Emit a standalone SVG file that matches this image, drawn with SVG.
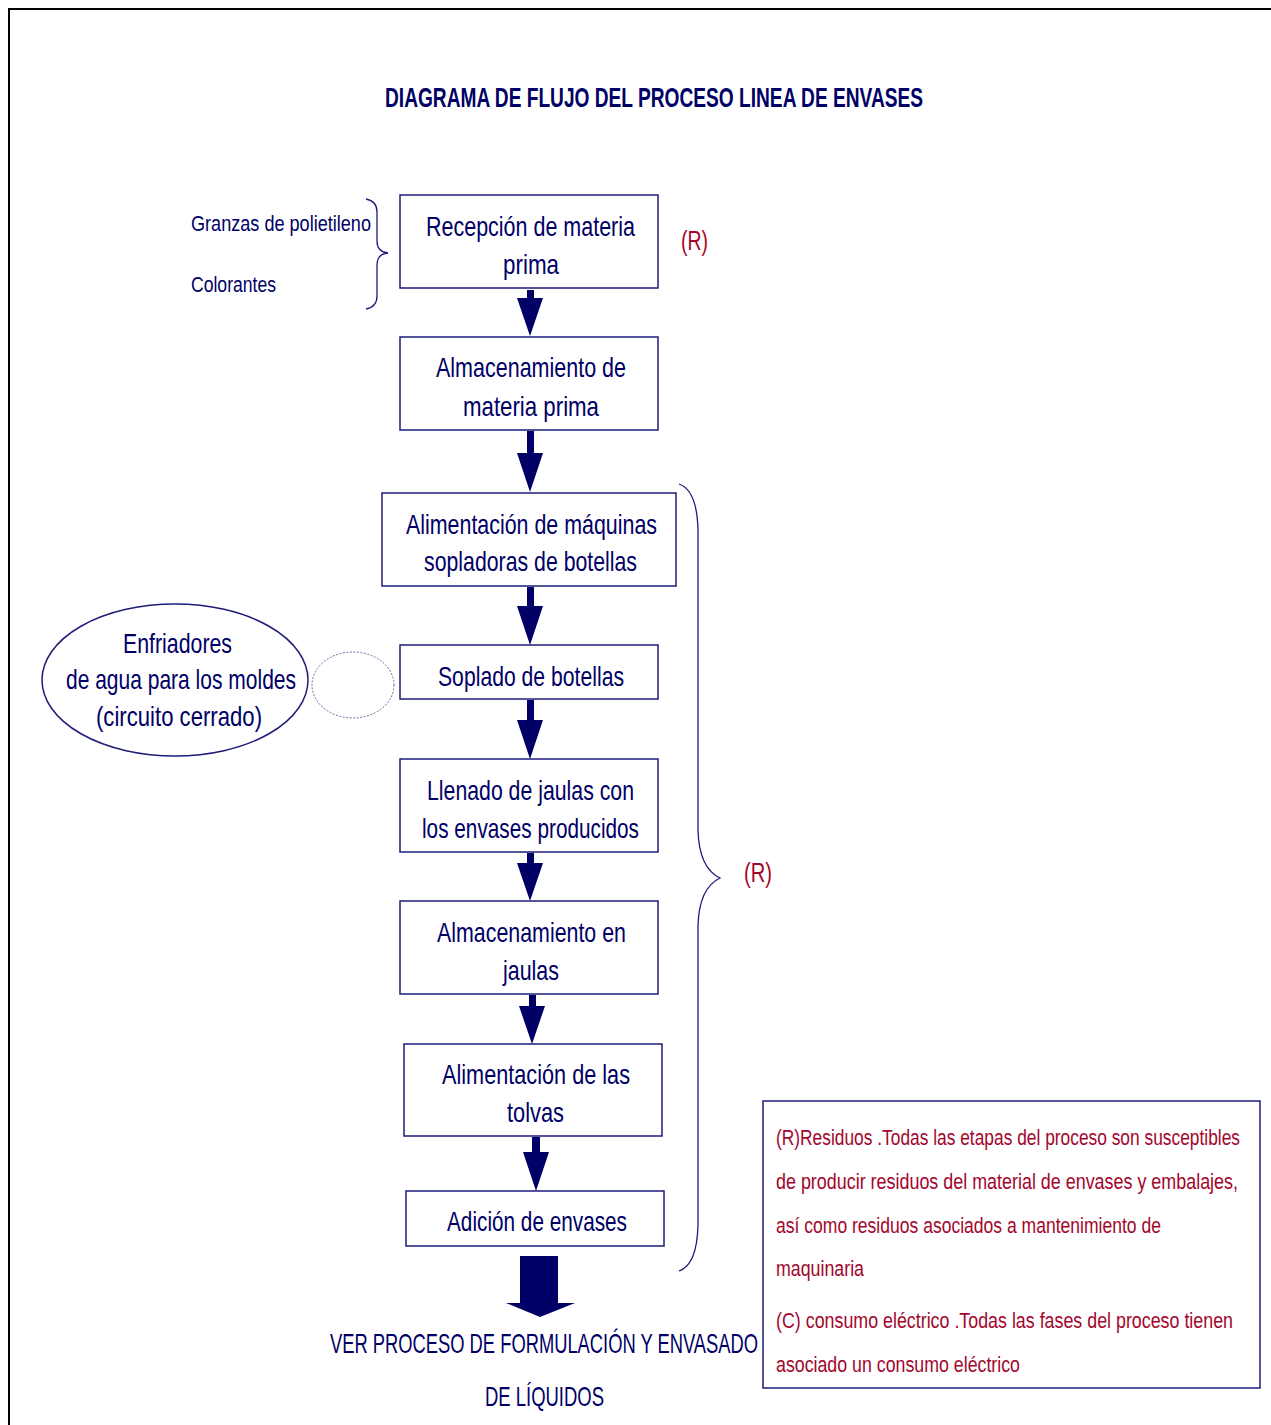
<svg xmlns="http://www.w3.org/2000/svg" width="1271" height="1425" viewBox="0 0 1271 1425">
<style>
text{font-family:"Liberation Sans Narrow","Liberation Sans",Arial,sans-serif;fill:#000066;}
.box{fill:#fff;stroke:#1c1c7a;stroke-width:1.5;}
.n{font-size:28px;text-anchor:middle;}
.s{font-size:22px;}
.red{fill:#a3062c;}
.arrow{fill:#000066;}
.brace{fill:none;stroke:#1c1c7a;stroke-width:1.3;}
</style>
<rect width="1271" height="1425" fill="#fff"/>
<path d="M9,1425 V9 H1271" fill="none" stroke="#000" stroke-width="2"/>
<text x="654" y="107" font-size="28" font-weight="bold" text-anchor="middle" textLength="538" lengthAdjust="spacingAndGlyphs">DIAGRAMA DE FLUJO DEL PROCESO LINEA DE ENVASES</text>

<g id="inputs">
<text class="s" x="191" y="231" textLength="180" lengthAdjust="spacingAndGlyphs">Granzas de polietileno</text>
<text class="s" x="191" y="292" textLength="85" lengthAdjust="spacingAndGlyphs">Colorantes</text>
<path class="brace" d="M366,199 Q377,201 377,212 V241 Q377,252 388,253 Q377,254 377,265 V296 Q377,307 366,309"/>
</g>

<g id="n1"><rect class="box" x="400" y="195" width="258" height="93"/>
<text class="n" x="530.5" y="236" textLength="209" lengthAdjust="spacingAndGlyphs">Recepción de materia</text>
<text class="n" x="531" y="274" textLength="56" lengthAdjust="spacingAndGlyphs">prima</text></g>
<text class="n red" x="694.5" y="250" textLength="27" lengthAdjust="spacingAndGlyphs">(R)</text>

<g id="n2"><rect class="box" x="400" y="337" width="258" height="93"/>
<text class="n" x="531" y="377" textLength="190" lengthAdjust="spacingAndGlyphs">Almacenamiento de</text>
<text class="n" x="531" y="416" textLength="136" lengthAdjust="spacingAndGlyphs">materia prima</text></g>

<g id="n3"><rect class="box" x="382" y="493" width="294" height="93"/>
<text class="n" x="531.5" y="534" textLength="251" lengthAdjust="spacingAndGlyphs">Alimentación de máquinas</text>
<text class="n" x="530.5" y="571" textLength="213" lengthAdjust="spacingAndGlyphs">sopladoras de botellas</text></g>

<g id="n4"><rect class="box" x="400" y="645" width="258" height="54"/>
<text class="n" x="531" y="686" textLength="186" lengthAdjust="spacingAndGlyphs">Soplado de botellas</text></g>

<g id="n5"><rect class="box" x="400" y="759" width="258" height="93"/>
<text class="n" x="530.5" y="800" textLength="207" lengthAdjust="spacingAndGlyphs">Llenado de jaulas con</text>
<text class="n" x="530.5" y="838" textLength="217" lengthAdjust="spacingAndGlyphs">los envases producidos</text></g>

<g id="n6"><rect class="box" x="400" y="901" width="258" height="93"/>
<text class="n" x="531.5" y="942" textLength="189" lengthAdjust="spacingAndGlyphs">Almacenamiento en</text>
<text class="n" x="531" y="980" textLength="56" lengthAdjust="spacingAndGlyphs">jaulas</text></g>

<g id="n7"><rect class="box" x="404" y="1044" width="258" height="92"/>
<text class="n" x="536" y="1084" textLength="188" lengthAdjust="spacingAndGlyphs">Alimentación de las</text>
<text class="n" x="535.5" y="1122" textLength="57" lengthAdjust="spacingAndGlyphs">tolvas</text></g>

<g id="n8"><rect class="box" x="406" y="1191" width="258" height="55"/>
<text class="n" x="537" y="1231" textLength="180" lengthAdjust="spacingAndGlyphs">Adición de envases</text></g>

<g id="cooler">
<ellipse cx="175" cy="680" rx="133" ry="76" fill="#fff" stroke="#1c1c7a" stroke-width="1.5"/>
<text class="n" x="177.5" y="653" textLength="109" lengthAdjust="spacingAndGlyphs">Enfriadores</text>
<text class="n" x="181" y="689" textLength="230" lengthAdjust="spacingAndGlyphs">de agua para los moldes</text>
<text class="n" x="179" y="726" textLength="166" lengthAdjust="spacingAndGlyphs">(circuito cerrado)</text>
</g>

<g id="connectors">
<ellipse cx="353" cy="685" rx="41" ry="33" fill="none" stroke="#6a6aa8" stroke-width="1" stroke-dasharray="2,1.5"/>
<path class="arrow" d="M527,290 h7 v8 h9 l-13,38 l-13,-38 h10 z"/>
<path class="arrow" d="M527,431 h7 v22 h9 l-13,39 l-13,-39 h10 z"/>
<path class="arrow" d="M527,587 h7 v19 h9 l-13,39 l-13,-39 h10 z"/>
<path class="arrow" d="M527,700 h7 v20 h9 l-13,39 l-13,-39 h10 z"/>
<path class="arrow" d="M527,853 h7 v10 h9 l-13,38 l-13,-38 h10 z"/>
<path class="arrow" d="M529,995 h7 v11 h9 l-13,38 l-13,-38 h10 z"/>
<path class="arrow" d="M532,1137 h8 v15 h9 l-13,39 l-13,-39 h9 z"/>
<path class="arrow" d="M520,1256 h38 v47 h17 l-35,14 l-34,-14 h14 z"/>
<path class="brace" d="M679,484 Q697,490 698,530 V830 Q699,868 720,878 Q699,888 698,926 V1225 Q697,1265 679,1271"/>
</g>
<text class="n red" x="758" y="882" textLength="28" lengthAdjust="spacingAndGlyphs">(R)</text>

<text class="n" x="544" y="1353" textLength="428" lengthAdjust="spacingAndGlyphs">VER PROCESO DE FORMULACIÓN Y ENVASADO</text>
<text class="n" x="544.5" y="1406" textLength="119" lengthAdjust="spacingAndGlyphs">DE LÍQUIDOS</text>

<g id="legend">
<rect x="763" y="1101" width="497" height="287" fill="#fff" stroke="#1c1c7a" stroke-width="1.5"/>
<text class="s red" x="776" y="1145" textLength="464" lengthAdjust="spacingAndGlyphs">(R)Residuos .Todas las etapas del proceso son susceptibles</text>
<text class="s red" x="776" y="1189" textLength="462" lengthAdjust="spacingAndGlyphs">de producir residuos del material de envases y embalajes,</text>
<text class="s red" x="776" y="1233" textLength="385" lengthAdjust="spacingAndGlyphs">así como residuos asociados a mantenimiento de</text>
<text class="s red" x="776" y="1276" textLength="88" lengthAdjust="spacingAndGlyphs">maquinaria</text>
<text class="s red" x="776" y="1328" textLength="457" lengthAdjust="spacingAndGlyphs">(C) consumo eléctrico .Todas las fases del proceso tienen</text>
<text class="s red" x="776" y="1372" textLength="244" lengthAdjust="spacingAndGlyphs">asociado un consumo eléctrico</text>
</g>
</svg>
